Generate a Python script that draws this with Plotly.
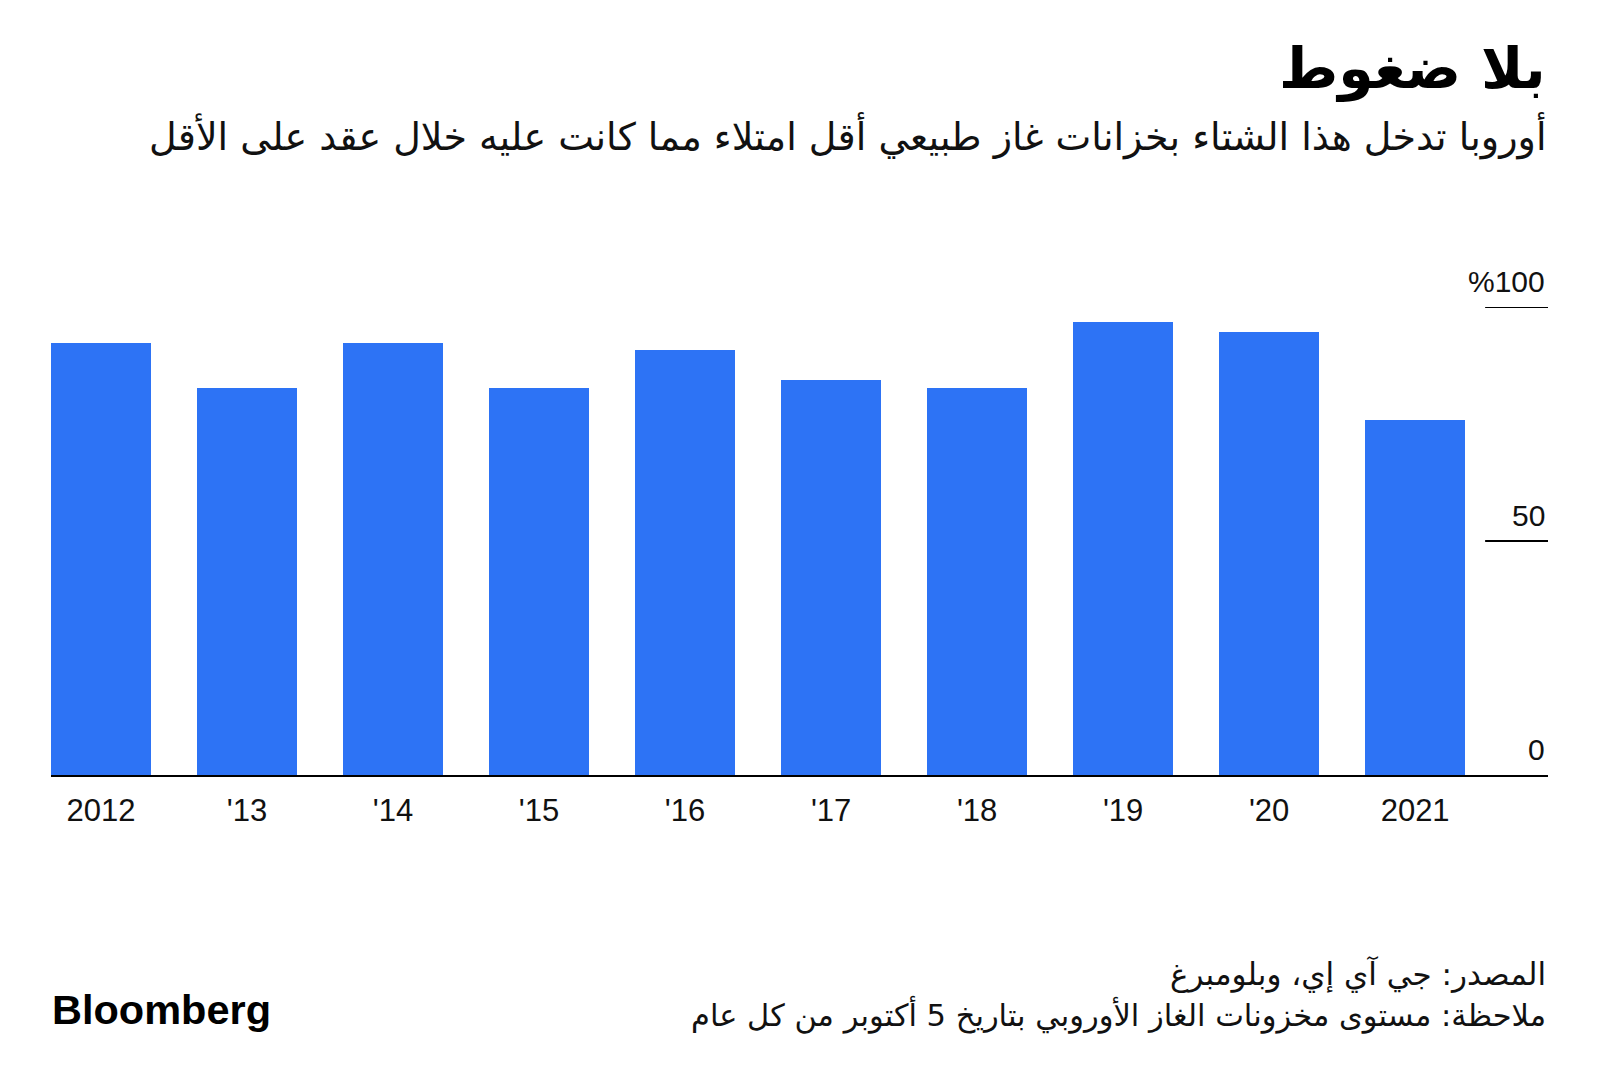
import plotly.graph_objects as go

# ---- data ----
years = ["2012", "'13", "'14", "'15", "'16", "'17", "'18", "'19", "'20", "2021"]
storage_pct = [92.4, 82.6, 92.4, 82.6, 90.8, 84.3, 82.6, 96.9, 94.6, 75.8]
y_ticks = [0, 50, 100]
y_tick_labels = ["0", "50", "%100"]

title = "بلا ضغوط"
subtitle = "أوروبا تدخل هذا الشتاء بخزانات غاز طبيعي أقل امتلاء مما كانت عليه خلال عقد على الأقل"
source = "المصدر: جي آي إي، وبلومبرغ"
note = "ملاحظة: مستوى مخزونات الغاز الأوروبي بتاريخ 5 أكتوبر من كل عام"

BAR = "#2D73F5"
AR_FONT = "DejaVu Sans"
NUM_FONT = "Liberation Sans"

x_idx = list(range(len(years)))

fig = go.Figure()
fig.add_trace(go.Bar(
    x=x_idx, y=storage_pct, marker=dict(color=BAR, line=dict(width=0)),
    width=0.685, hoverinfo="skip", showlegend=False,
))

W, H = 1600, 1089
left, right, top, bottom = 51, 1548, 307, 775.5

fig.update_layout(
    width=W, height=H,
    margin=dict(l=left, r=W - right, t=top, b=H - bottom, pad=0),
    paper_bgcolor="white", plot_bgcolor="white",
    bargap=0,
    xaxis=dict(
        range=[-0.3425, 9.91], tickvals=x_idx, ticktext=years,
        showgrid=False, zeroline=False, showline=True, linecolor="black", linewidth=2,
        ticks="", ticklabelstandoff=7,
        tickfont=dict(family=NUM_FONT, size=31, color="#111"),
        fixedrange=True,
    ),
    yaxis=dict(
        range=[0, 100], showgrid=False, zeroline=False, showticklabels=False,
        showline=False, fixedrange=True,
    ),
)

# short right-side gridlines
for v in y_ticks[1:]:
    fig.add_shape(type="line", xref="x domain", yref="y", x0=0.958, x1=1.0, y0=v, y1=v,
                  line=dict(color="black", width=2))

# y tick labels above their lines, right aligned
for v, lab in zip(y_ticks, y_tick_labels):
    fig.add_annotation(xref="x domain", yref="y", x=1.0, y=v, text=lab, showarrow=False,
                       xanchor="right", yanchor="bottom", yshift=7, xshift=-1,
                       font=dict(family=NUM_FONT, size=30, color="#111"))

# titles
fig.add_annotation(xref="paper", yref="paper", x=1.0, y=1.0, xanchor="right", yanchor="middle",
                   text="<b>" + title + "</b>", showarrow=False,
                   yshift=(top - 68), font=dict(family=AR_FONT, size=57, color="#000"))

fig.add_annotation(xref="paper", yref="paper", x=1.0, y=1.0, xanchor="right", yanchor="middle",
                   text=subtitle, showarrow=False,
                   yshift=(top - 136), font=dict(family=AR_FONT, size=38, color="#111"))

# footer
fig.add_annotation(xref="paper", yref="paper", x=1.0, y=0.0, xanchor="right", yanchor="middle",
                   text=source, showarrow=False,
                   yshift=(bottom - 974), font=dict(family=AR_FONT, size=31, color="#111"))
fig.add_annotation(xref="paper", yref="paper", x=1.0, y=0.0, xanchor="right", yanchor="middle",
                   text=note, showarrow=False,
                   yshift=(bottom - 1015), font=dict(family=AR_FONT, size=30.5, color="#111"))
fig.add_annotation(xref="paper", yref="paper", x=0.0, y=0.0, xanchor="left", yanchor="middle",
                   text="<b>Bloomberg</b>", showarrow=False, xshift=-1,
                   yshift=(bottom - 1010), font=dict(family=NUM_FONT, size=41.5, color="#000"))

fig.write_html("out.html", config={"displayModeBar": False})
